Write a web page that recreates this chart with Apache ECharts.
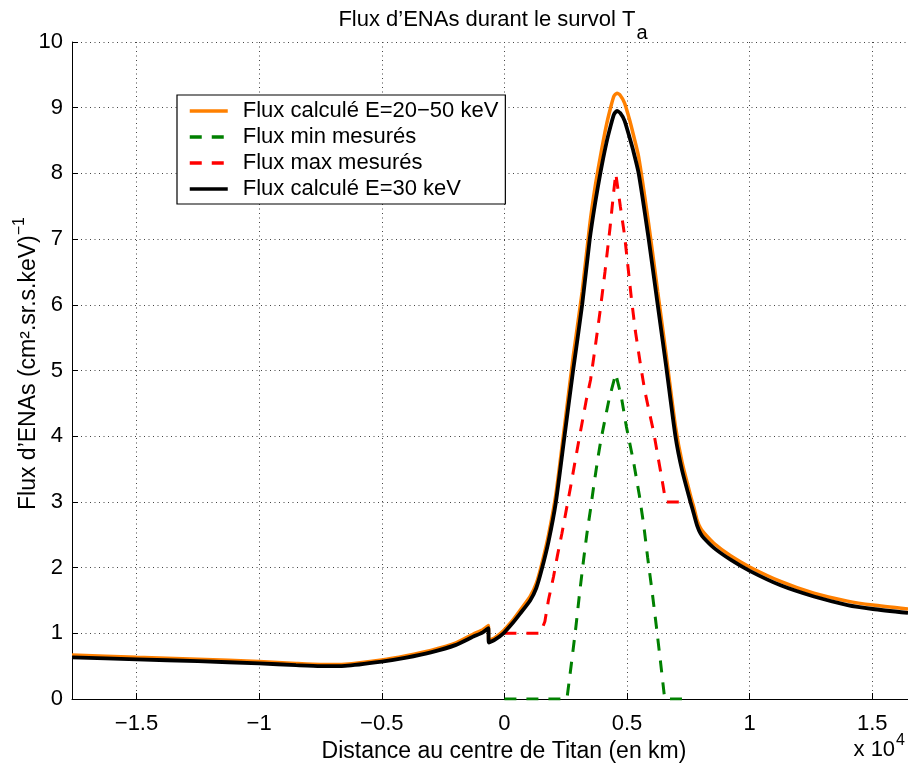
<!DOCTYPE html>
<html>
<head>
<meta charset="utf-8">
<script src="https://cdn.jsdelivr.net/npm/echarts@6/dist/echarts.min.js"></script>
<style>
html,body{margin:0;padding:0;background:#fff;}
#chart{width:908px;height:764px;}
</style>
</head>
<body>
<div id="chart"></div>
<script>
// ---- data (distance in km, flux in (cm².sr.s.keV)^-1) ----
const distCalc = [-17630, -15000, -12500, -10000, -8500, -7500, -6500, -5000, -4000, -3000, -2000, -1266, -900, -653, -640, -400, -40, 300, 641, 1050, 1300, 1520, 1800, 2100, 2450, 2800, 3170, 3480, 3700, 3909, 4150, 4350, 4470, 4590, 4720, 4900, 5100, 5250, 5474, 5882, 6250, 6600, 6973, 7245, 7586, 7722, 7858, 7994, 8130, 8540, 9220, 10000, 11260, 12620, 13990, 15020, 16455];
const fluxCalc30 = [0.635, 0.604, 0.575, 0.543, 0.515, 0.50, 0.505, 0.57, 0.63, 0.71, 0.82, 0.95, 1.01, 1.08, 0.86, 0.90, 1.0, 1.14, 1.30, 1.50, 1.69, 1.97, 2.4, 3.0, 4.0, 5.0, 6.0, 7.0, 7.55, 8.0, 8.45, 8.75, 8.9, 8.95, 8.92, 8.8, 8.55, 8.35, 8.0, 7.0, 6.0, 5.05, 4.0, 3.48, 3.0, 2.82, 2.64, 2.52, 2.45, 2.3, 2.12, 1.95, 1.73, 1.56, 1.43, 1.37, 1.31];
const fluxCalc2050 = [0.67, 0.635, 0.605, 0.57, 0.54, 0.525, 0.53, 0.595, 0.66, 0.74, 0.85, 0.99, 1.05, 1.12, 0.89, 0.93, 1.04, 1.18, 1.35, 1.56, 1.76, 2.05, 2.5, 3.12, 4.15, 5.2, 6.2, 7.22, 7.8, 8.25, 8.72, 9.03, 9.18, 9.22, 9.19, 9.07, 8.82, 8.6, 8.25, 7.23, 6.2, 5.22, 4.15, 3.6, 3.1, 2.92, 2.72, 2.6, 2.53, 2.37, 2.18, 2.01, 1.79, 1.61, 1.49, 1.43, 1.37];
const distMax = [0, 1460, 1650, 1798, 2002, 2165, 2344, 2684, 2998, 3160, 3338, 3513, 3700, 3900, 4100, 4300, 4450, 4540, 4726, 4902, 5176, 5339, 5543, 5719, 5911, 6087, 6250, 6413, 6577, 7586];
const fluxMax = [1, 1, 1.18, 1.51, 1.86, 2.19, 2.52, 3.2, 3.86, 4.19, 4.55, 4.86, 5.35, 5.9, 6.5, 7.15, 7.7, 8.0, 7.5, 7.05, 6.1, 5.6, 5.1, 4.70, 4.36, 4.06, 3.71, 3.37, 3.0, 3.0];
const distMin = [0, 2548, 2752, 2915, 3065, 3228, 3365, 3528, 3637, 3800, 3923, 4114, 4277, 4540, 4767, 4971, 5270, 5502, 5679, 5842, 6034, 6197, 6360, 6536, 7450];
const fluxMin = [0, 0, 0.6, 1.1, 1.61, 2.12, 2.52, 2.93, 3.23, 3.64, 3.92, 4.28, 4.58, 4.95, 4.6, 4.15, 3.6, 3.1, 2.65, 2.15, 1.6, 1.1, 0.58, 0, 0];
const xTickLabels = {'-15000': '\u22121.5', '-10000': '\u22121', '-5000': '\u22120.5', '0': '0', '5000': '0.5', '10000': '1', '15000': '1.5'};
const seriesNames = ['Flux calculé E=20\u221250 keV', 'Flux min mesurés', 'Flux max mesurés', 'Flux calculé E=30 keV'];

const zip = (xs, ys) => xs.map((x, i) => [x, ys[i]]);
const FONT = 'Liberation Sans, Arial, Helvetica, sans-serif';

const chart = echarts.init(document.getElementById('chart'), null, {renderer: 'canvas'});
chart.setOption({
  animation: false,
  backgroundColor: '#ffffff',
  textStyle: {fontFamily: FONT, color: '#000'},
  title: {
    text: '{m|Flux d\u2019ENAs durant le survol T}{s|a}',
    left: 488, top: 4, textAlign: 'center',
    textStyle: {
      fontWeight: 'normal',
      rich: {
        m: {fontSize: 22, fontWeight: 'normal', fontFamily: FONT, color: '#000', verticalAlign: 'top', lineHeight: 24},
        s: {fontSize: 20, fontWeight: 'normal', fontFamily: FONT, color: '#000', verticalAlign: 'top', padding: [14, 0, 0, 1], lineHeight: 24}
      }
    }
  },
  grid: {left: 72, right: 0, top: 42, bottom: 65, containLabel: false, outerBoundsMode: 'none'},
  legend: {
    orient: 'vertical', left: 177, top: 95,
    backgroundColor: '#fff', borderColor: '#000', borderWidth: 1.2,
    padding: [5, 7, 4, 11], itemWidth: 38, itemHeight: 14, itemGap: 4,
    itemStyle: {opacity: 0},
    lineStyle: {width: 3.5},
    textStyle: {fontSize: 22, fontFamily: FONT, color: '#000', padding: [0, 0, 0, 10]},
    data: seriesNames
  },
  xAxis: {
    type: 'value', min: -17630, max: 16455, splitNumber: 7,
    name: 'Distance au centre de Titan (en km)', nameLocation: 'middle', nameGap: 34,
    nameTextStyle: {fontSize: 23, fontFamily: FONT, color: '#000', padding: [0, 0, 0, 28], verticalAlign: 'top'},
    axisLine: {onZero: false, lineStyle: {color: '#000', width: 1}},
    axisTick: {inside: true, length: 6, lineStyle: {color: '#000'}},
    axisLabel: {
      fontSize: 22, fontFamily: FONT, color: '#000', margin: 14,
      showMinLabel: false, showMaxLabel: false,
      formatter: v => (xTickLabels[String(v)] !== undefined ? xTickLabels[String(v)] : '')
    },
    splitLine: {show: true, lineStyle: {color: '#444', width: 1, type: [1, 3.5]}}
  },
  yAxis: {
    type: 'value', min: 0, max: 10, interval: 1,
    name: '{t|Flux d\u2019ENAs (cm\u00b2.sr.s.keV)}{p|\u22121}', nameLocation: 'middle', nameGap: 32,
    nameMoveOverlap: false,
    nameTextStyle: {
      padding: [0, 0, 0, 14],
      rich: {
        t: {fontSize: 23, fontFamily: FONT, color: '#000', verticalAlign: 'bottom', lineHeight: 28},
        p: {fontSize: 16, fontFamily: FONT, color: '#000', verticalAlign: 'bottom', padding: [0, 0, 12, 0], lineHeight: 28}
      }
    },
    axisLine: {show: true, onZero: false, lineStyle: {color: '#000', width: 1}},
    axisTick: {show: true, inside: true, length: 6, lineStyle: {color: '#000'}},
    axisLabel: {fontSize: 22, fontFamily: FONT, color: '#000', margin: 9},
    splitLine: {show: true, lineStyle: {color: '#444', width: 1, type: [1, 3.5]}}
  },
  series: [
    {name: seriesNames[0], type: 'line', data: zip(distCalc, fluxCalc2050), symbol: 'none', showSymbol: false, smooth: 0.2,
     lineStyle: {color: '#FF8000', width: 3.5}, itemStyle: {color: '#FF8000'}, z: 2},
    {name: seriesNames[1], type: 'line', data: zip(distMin, fluxMin), symbol: 'none', showSymbol: false,
     lineStyle: {color: '#008000', width: 3, type: [12, 10]}, itemStyle: {color: '#008000'}, z: 3},
    {name: seriesNames[2], type: 'line', data: zip(distMax, fluxMax), symbol: 'none', showSymbol: false,
     lineStyle: {color: '#FF0000', width: 3, type: [12, 10]}, itemStyle: {color: '#FF0000'}, z: 3},
    {name: seriesNames[3], type: 'line', data: zip(distCalc, fluxCalc30), symbol: 'none', showSymbol: false, smooth: 0.2,
     lineStyle: {color: '#000000', width: 3.8}, itemStyle: {color: '#000000'}, z: 4}
  ],
  graphic: [{
    type: 'text', right: 3, top: 733,
    style: {
      text: '{n|x 10}{p|4}',
      rich: {
        n: {fontSize: 22, fontFamily: FONT, fill: '#000', verticalAlign: 'bottom', lineHeight: 28},
        p: {fontSize: 16, fontFamily: FONT, fill: '#000', verticalAlign: 'bottom', padding: [0, 0, 12, 1], lineHeight: 28}
      }
    }
  }]
});
</script>
</body>
</html>
